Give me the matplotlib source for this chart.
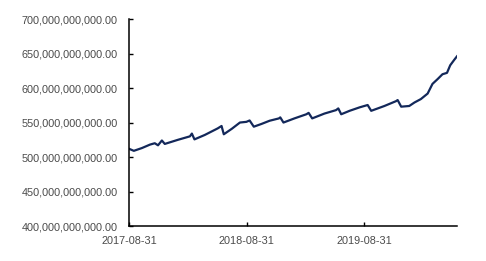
import matplotlib
matplotlib.use('Agg')
import matplotlib.pyplot as plt
import matplotlib.dates as mdates
from matplotlib.ticker import FuncFormatter
import pandas as pd

dates = ['2017-08-31', '2017-09-15', '2017-10-10', '2017-11-04', '2017-11-19', '2017-11-29',
         '2017-12-11', '2017-12-20', '2018-01-30', '2018-03-08', '2018-03-14', '2018-03-22',
         '2018-04-23', '2018-06-02', '2018-06-14', '2018-06-21', '2018-07-16', '2018-08-10',
         '2018-08-30', '2018-09-09', '2018-09-22', '2018-10-16', '2018-11-10', '2018-12-09',
         '2018-12-13', '2018-12-23', '2019-01-26', '2019-03-04', '2019-03-11', '2019-03-22',
         '2019-04-29', '2019-06-04', '2019-06-11', '2019-06-20', '2019-07-16', '2019-08-16',
         '2019-09-10', '2019-09-21', '2019-11-01', '2019-12-07', '2019-12-12', '2019-12-23',
         '2020-01-17', '2020-02-02', '2020-02-22', '2020-03-14', '2020-03-29', '2020-04-14',
         '2020-04-29', '2020-05-13', '2020-05-23', '2020-06-04', '2020-06-13']
# values in billions
values = [512, 509, 513, 518, 520, 517,
          524, 519, 525, 530, 534, 525.6,
          532, 541.5, 545, 533, 541, 550,
          551, 553, 544, 548, 552.6, 556,
          557.5, 550, 556, 562, 564, 556,
          563, 568, 570.5, 562, 567, 572,
          575.4, 567, 574, 581, 582.6, 573,
          574, 579, 584, 592, 606, 613,
          620, 622, 633, 640.6, 646]

x = pd.to_datetime(dates)
y = [v * 1e9 for v in values]
tick_dates = pd.to_datetime(['2017-08-31', '2018-08-31', '2019-08-31'])

plt.rcParams['font.family'] = ['Liberation Sans', 'DejaVu Sans']
fig = plt.figure(figsize=(4.86, 2.61), dpi=100)
ax = fig.add_axes([0.2654, 0.134, 0.6749, 0.793])
ax.plot(x, y, color='#13285a', linewidth=1.6)

ax.set_ylim(400e9, 700e9)
ax.set_yticks([400e9, 450e9, 500e9, 550e9, 600e9, 650e9, 700e9])
ax.yaxis.set_major_formatter(FuncFormatter(lambda v, p: '{:,.2f}'.format(v)))
ax.set_xlim(pd.Timestamp('2017-08-31'), pd.Timestamp('2020-06-13'))
ax.set_xticks(tick_dates)
ax.xaxis.set_major_formatter(mdates.DateFormatter('%Y-%m-%d'))

for s in ['top', 'right']:
    ax.spines[s].set_visible(False)
for s in ['left', 'bottom']:
    ax.spines[s].set_linewidth(1.1)
ax.tick_params(direction='in', length=3, width=1, labelsize=7.8, labelcolor='#4a4a4a')
ax.tick_params(axis='y', pad=8)
ax.tick_params(axis='x', pad=7)

fig.savefig('out.png', dpi=100)
